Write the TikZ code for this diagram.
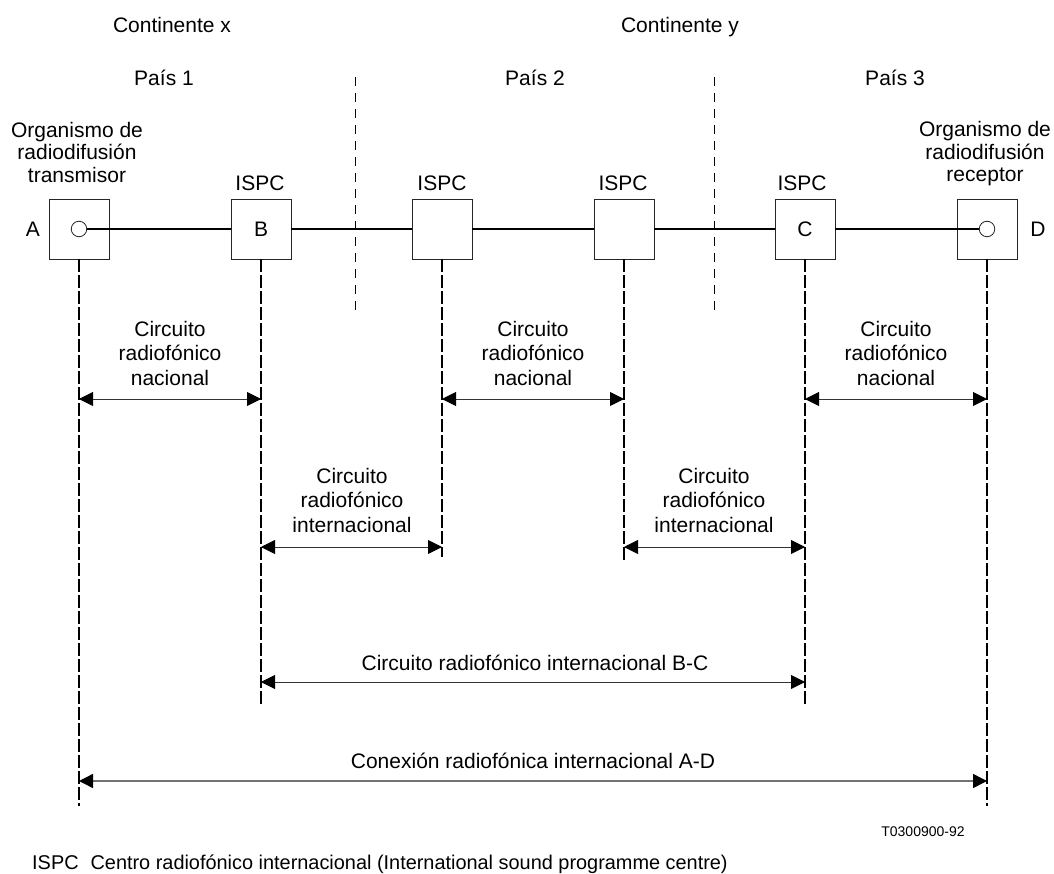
\documentclass[tikz,border=0pt]{standalone}
\usepackage{fontspec}
\setmainfont{Liberation Sans}
\usetikzlibrary{arrows.meta}
\begin{document}
\begin{tikzpicture}[x=1pt,y=-1pt,
  box/.style={draw=black!85,line width=0.8pt,minimum size=60pt,inner sep=0pt,fill=white},
  lbl/.style={font=\fontsize{21}{24.5}\selectfont,inner sep=0pt,align=center},
  one/.style={font=\fontsize{21}{24.5}\selectfont,inner sep=0pt,anchor=base},
  org/.style={font=\fontsize{21}{22.5}\selectfont,inner sep=0pt,align=center},
  small/.style={font=\fontsize{14}{16}\selectfont,inner sep=0pt,anchor=base},
  vline/.style={line width=1.6pt,dash pattern=on 13pt off 3pt},
  border/.style={line width=0.7pt,dash pattern=on 9pt off 7pt},
  dim/.style={line width=0.9pt,draw=black!80,{Triangle[length=14pt,width=14pt,fill=black,color=black]}-{Triangle[length=14pt,width=14pt,fill=black,color=black]}},
  dimgrey/.style={dim,draw=black!55,line width=1.4pt},
  wire/.style={line width=1.9pt},
  port/.style={circle,draw=black!85,line width=0.8pt,minimum size=15.5pt,inner sep=0pt,fill=white}]
\useasboundingbox (0,0) rectangle (1054,874);

% country borders
\coordinate (bd1t) at (355,77); \coordinate (bd1b) at (355,315);
\coordinate (bd2t) at (714,77); \coordinate (bd2b) at (714,315);
\draw[border] (bd1t) -- (bd1b);
\draw[border] (bd2t) -- (bd2b);

% boxes
\node[box] (a) at (79,229) {};
\node[box,font=\fontsize{21}{24}\selectfont] (b) at (261,229) {B};
\node[box] (s2) at (442,229) {};
\node[box] (s3) at (624,229) {};
\node[box,font=\fontsize{21}{24}\selectfont] (c) at (805,229) {C};
\node[box] (d) at (987,229) {};
\node[port] (ca) at (79,229) {};
\node[port] (cd) at (987,229) {};

% chain
\draw[wire] (ca.east) -- (b.west);
\draw[wire] (b.east) -- (s2.west);
\draw[wire] (s2.east) -- (s3.west);
\draw[wire] (s3.east) -- (c.west);
\draw[wire] (c.east) -- (cd.west);

% vertical dashed lines
\coordinate (ae) at (79,806);
\coordinate (be) at (261,705);
\coordinate (s2e) at (442,557);
\coordinate (s3e) at (624,562);
\coordinate (ce) at (805,705);
\coordinate (de) at (987,806);
\draw[vline] (a.south) -- (ae);
\draw[vline] (b.south) -- (be);
\draw[vline] (s2.south) -- (s2e);
\draw[vline] (s3.south) -- (s3e);
\draw[vline] (c.south) -- (ce);
\draw[vline] (d.south) -- (de);

% arrow points
\coordinate (an) at (79,399);  \coordinate (bn) at (261,399);
\coordinate (s2n) at (442,399); \coordinate (s3n) at (624,399);
\coordinate (cn) at (805,399); \coordinate (dn) at (987,399);
\coordinate (bi) at (261,547); \coordinate (s2i) at (442,547);
\coordinate (s3i) at (624,547); \coordinate (ci) at (805,547);
\coordinate (bbc) at (261,682); \coordinate (cbc) at (805,682);
\coordinate (aad) at (79,781); \coordinate (dad) at (987,781);

\draw[dim] (an) -- (bn);
\draw[dim] (s2n) -- (s3n);
\draw[dim] (cn) -- (dn);
\draw[dim] (bi) -- (s2i);
\draw[dim] (s3i) -- (ci);
\draw[dim] (bbc) -- (cbc);
\draw[dimgrey] (aad) -- (dad);

% labels
\node[one] (cx) at (172,33) {Continente x};
\node[one] (cy) at (680,33) {Continente y};
\node[one] (p1) at (164,86) {País 1};
\node[one] (p2) at (535,86) {País 2};
\node[one] (p3) at (895,86) {País 3};
\node[org] (oa) at (77,152) {Organismo de\\radiodifusión\\transmisor};
\node[org] (od) at (985,154) {Organismo de\\radiodifusión\\receptor};
\node[one] (ib) at (260,191) {ISPC};
\node[one] (i2) at (442,191) {ISPC};
\node[one] (i3) at (623,191) {ISPC};
\node[one] (ic) at (802,191) {ISPC};
\node[one] (la) at (33,237) {A};
\node[one] (ld) at (1038,237) {D};

\node[lbl] (n1) at (170,353) {Circuito\\radiofónico\\nacional};
\node[lbl] (n2) at (533,353) {Circuito\\radiofónico\\nacional};
\node[lbl] (n3) at (896,353) {Circuito\\radiofónico\\nacional};
\node[lbl] (int1) at (352,500) {Circuito\\radiofónico\\internacional};
\node[lbl] (int2) at (714,500) {Circuito\\radiofónico\\internacional};
\node[one] (tbc) at (535,670) {Circuito radiofónico internacional B-C};
\node[one] (tad) at (533,768) {Conexión radiofónica internacional A-D};
\node[small] (ref) at (923,836) {T0300900-92};
\node[one,anchor=base west,font=\fontsize{19.9}{22}\selectfont] (leg) at (32,869) {ISPC\hspace{0.6em}Centro radiofónico internacional (International sound programme centre)};
\end{tikzpicture}
\end{document}
